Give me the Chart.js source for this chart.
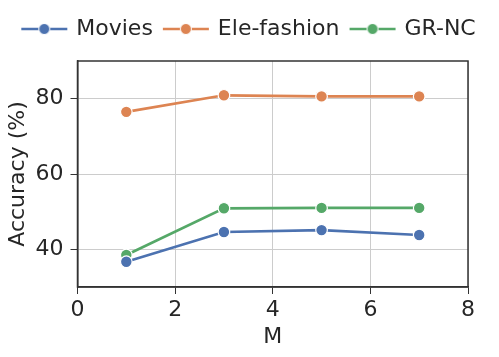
<!DOCTYPE html>
<html>
<head>
<meta charset="utf-8">
<script src="https://cdn.jsdelivr.net/npm/chart.js@4"></script>
<style>
html,body{margin:0;padding:0;background:#fff;}
#wrap{width:499px;height:357px;}
</style>
</head>
<body>
<div id="wrap"><canvas id="c" width="499" height="357"></canvas></div>
<script>
const xValues = [1, 3, 5, 7];
const movies = [36.7, 44.6, 45.1, 43.8];
const eleFashion = [76.5, 80.9, 80.6, 80.6];
const grNC = [38.5, 50.9, 51.0, 51.0];
const seriesNames = ['Movies', 'Ele-fashion', 'GR-NC'];
const seriesColors = ['#4c72b0', '#dd8452', '#55a868'];
const yTicks = [40, 60, 80];
const xTicks = [0, 2, 4, 6, 8];

const FONT = 'DejaVu Sans';
const FS = 22;
const TXT = '#262626';

function legendIcon(color) {
  const c = document.createElement('canvas');
  c.width = 48; c.height = 14;
  const g = c.getContext('2d');
  g.strokeStyle = color; g.lineWidth = 2.5;
  g.beginPath(); g.moveTo(1, 7); g.lineTo(47, 7); g.stroke();
  g.beginPath(); g.arc(24, 7, 5.5, 0, Math.PI * 2);
  g.fillStyle = color; g.fill();
  g.strokeStyle = '#fff'; g.lineWidth = 1; g.stroke();
  return c;
}

const allSeries = [movies, eleFashion, grNC];
const datasets = allSeries.map((vals, i) => ({
  label: seriesNames[i],
  data: xValues.map((x, j) => ({x: x, y: vals[j]})),
  borderColor: seriesColors[i],
  backgroundColor: seriesColors[i],
  borderWidth: 2.7,
  pointRadius: 5.8,
  pointHoverRadius: 5.8,
  pointBackgroundColor: seriesColors[i],
  pointBorderColor: '#ffffff',
  pointBorderWidth: 1.2,
  tension: 0
}));

const frame = {
  id: 'frame',
  beforeUpdate(chart) {
    if (chart.legend && !chart.legend._patched) {
      const orig = chart.legend.fit;
      chart.legend.fit = function () { orig.call(this); this.height += 11; };
      chart.legend._patched = true;
    }
  },
  afterDatasetsDraw(chart) {
    const a = chart.chartArea, ctx = chart.ctx;
    ctx.save();
    ctx.strokeStyle = '#333333';
    ctx.lineWidth = 1.5;
    ctx.strokeRect(a.left, a.top, a.right - a.left, a.bottom - a.top);
    ctx.restore();
  }
};

new Chart(document.getElementById('c'), {
  type: 'line',
  data: { datasets },
  plugins: [frame],
  options: {
    responsive: false,
    animation: false,
    events: [],
    layout: { padding: { top: 6, right: 0, bottom: 0, left: 0 } },
    plugins: {
      tooltip: { enabled: false },
      legend: {
        position: 'top',
        align: 'center',
        labels: {
          usePointStyle: true,
          pointStyleWidth: 42,
          padding: 12,
          color: TXT,
          font: { family: FONT, size: FS },
          generateLabels(chart) {
            return chart.data.datasets.map((d, i) => ({
              text: d.label,
              pointStyle: legendIcon(seriesColors[i]),
              fillStyle: seriesColors[i],
              strokeStyle: seriesColors[i],
              lineWidth: 0,
              hidden: false,
              datasetIndex: i,
              fontColor: TXT
            }));
          }
        }
      }
    },
    scales: {
      x: {
        type: 'linear',
        min: 0, max: 8,
        afterBuildTicks(s) { s.ticks = xTicks.map(v => ({ value: v })); },
        afterFit(s) { s.height = 70; },
        grid: { color: '#cccccc', lineWidth: 1, tickLength: 7, tickColor: '#333333', drawTicks: true },
        border: { display: true, color: '#333333', width: 1.5 },
        ticks: { color: TXT, font: { family: FONT, size: FS }, padding: 3, maxRotation: 0 },
        title: { display: true, text: 'M', color: TXT, font: { family: FONT, size: FS }, padding: 7 }
      },
      y: {
        type: 'linear',
        min: 30, max: 90,
        afterBuildTicks(s) { s.ticks = yTicks.map(v => ({ value: v })); },
        afterFit(s) { s.width = 77.5; },
        grid: { color: '#cccccc', lineWidth: 1, tickLength: 7, tickColor: '#333333', drawTicks: true },
        border: { display: true, color: '#333333', width: 1.5 },
        ticks: { color: TXT, font: { family: FONT, size: FS }, padding: 7 },
        title: { display: true, text: 'Accuracy (%)', color: TXT, font: { family: FONT, size: FS }, padding: 5 }
      },
      yRight: {
        type: 'linear',
        position: 'right',
        display: true,
        min: 30, max: 90,
        afterFit(s) { s.width = 31; },
        grid: { display: false, drawTicks: false },
        border: { display: false },
        ticks: { display: false }
      }
    }
  }
});
</script>
</body>
</html>
